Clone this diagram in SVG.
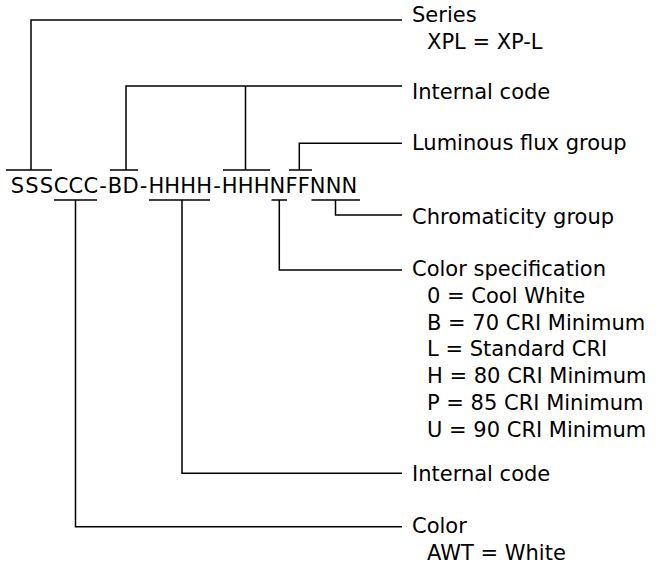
<svg xmlns="http://www.w3.org/2000/svg" width="656" height="563" viewBox="0 0 656 563">
<style>
  .c { fill: none; stroke: #000; stroke-width: 1.5; stroke-linecap: butt; stroke-linejoin: miter; }
  text { font-family: "DejaVu Sans", Verdana, sans-serif; font-size: 21px; fill: #000; }
</style>
<rect width="656" height="563" fill="#fff"/>
<g id="connectors">
  <path class="c" d="M402,20 H31 V170 M6,170 H52"/>
  <path class="c" d="M402,86 H126 V170 M110,170 H138"/>
  <path class="c" d="M245.5,86 V170 M223,170 H270"/>
  <path class="c" d="M402,143.3 H299.3 V170 M289,170 H312"/>
  <path class="c" d="M311.5,200 H360 M335.5,200 V215 H402"/>
  <path class="c" d="M271.5,200 H287 M279.3,200 V270 H402"/>
  <path class="c" d="M149,200 H210 M182,200 V473.3 H402"/>
  <path class="c" d="M54,200 H97 M75.5,200 V526.7 H402"/>
</g>
<g id="code">
  <text y="193.3" x="10.8 25.3 39.8 53.8 68.6 83.4 99.2 107.85 122.39 139.74 148.39 164.33 180.27 196.21 213.15 221.8 237.74 253.68 269.62 285.48 297.67 309.86 325.72 341.58">SSSCCC-BD-HHHH-HHHNFFNNN</text>
</g>
<g id="series">
  <text x="412" y="22">Series</text>
  <text x="427" y="48.5">XPL = XP-L</text>
</g>
<g id="internal-code-top">
  <text x="412" y="99.3">Internal code</text>
</g>
<g id="luminous-flux">
  <text x="412" y="150.3">Luminous flux group</text>
</g>
<g id="chromaticity">
  <text x="412" y="224">Chromaticity group</text>
</g>
<g id="color-spec">
  <text x="412" y="276">Color specification</text>
  <text x="427" y="302.8">0 = Cool White</text>
  <text x="427" y="329.6">B = 70 CRI Minimum</text>
  <text x="427" y="356.4">L = Standard CRI</text>
  <text x="427" y="383.2">H = 80 CRI Minimum</text>
  <text x="427" y="410">P = 85 CRI Minimum</text>
  <text x="427" y="436.8">U = 90 CRI Minimum</text>
</g>
<g id="internal-code-bottom">
  <text x="412" y="480.7">Internal code</text>
</g>
<g id="color">
  <text x="412" y="532.7">Color</text>
  <text x="427" y="559.5">AWT = White</text>
</g>
</svg>
